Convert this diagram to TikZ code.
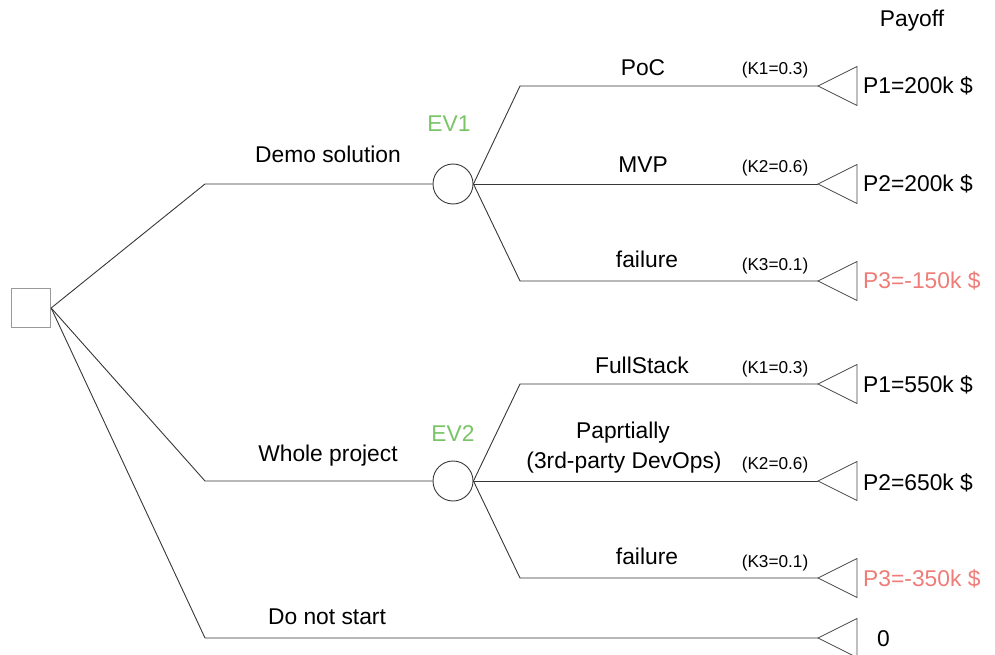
\documentclass[tikz,border=0pt]{standalone}
\usepackage{fontspec}
\setmainfont{Liberation Sans}
\definecolor{evgreen}{RGB}{122,196,104}
\definecolor{losered}{RGB}{238,124,120}
\definecolor{edgegray}{RGB}{55,55,55}
\begin{document}
\begin{tikzpicture}[x=1pt,y=-1pt,
  edge/.style={draw=edgegray,line width=0.9pt},
  decision/.style={draw=gray!80,line width=1.3pt,minimum size=39pt,inner sep=0pt},
  chance/.style={circle,draw=edgegray,line width=0.9pt,minimum size=40pt,inner sep=0pt},
  leaf/.style={draw=edgegray!90,line width=0.8pt},
  lbl/.style={font=\fontsize{22.8}{26}\selectfont,anchor=base,inner sep=0pt},
  prob/.style={font=\fontsize{17.2}{20}\selectfont,anchor=base,inner sep=0pt},
  pay/.style={font=\fontsize{22.8}{26}\selectfont,anchor=base west,inner sep=0pt},
  evlbl/.style={lbl,text=evgreen}]
\useasboundingbox (0,0) rectangle (995,655);

% decision and chance nodes
\node[decision] (root) at (31,308) {};
\node[chance] (ev1) at (453,184) {};
\node[chance] (ev2) at (453,481) {};

% bends and leaf tips
\coordinate (bDemo) at (205,184);
\coordinate (bWhole) at (205,481);
\coordinate (bNone) at (205,638);
\foreach \n/\y in {a1/86,a2/184,a3/281,b1/384,b2/481,b3/578,c/638}{
  \coordinate (t\n) at (818,\y);
}
\coordinate (ka1) at (520,86);
\coordinate (ka3) at (520,281);
\coordinate (kb1) at (520,384);
\coordinate (kb3) at (520,578);

% first level branches
\draw[edge] (root.east) -- (bDemo) -- (ev1.west);
\draw[edge] (root.east) -- (bWhole) -- (ev2.west);
\draw[edge] (root.east) -- (bNone) -- (tc);

% chance branches
\draw[edge] (ev1.east) -- (ka1) -- (ta1);
\draw[edge] (ev1.east) -- (ta2);
\draw[edge] (ev1.east) -- (ka3) -- (ta3);
\draw[edge] (ev2.east) -- (kb1) -- (tb1);
\draw[edge] (ev2.east) -- (tb2);
\draw[edge] (ev2.east) -- (kb3) -- (tb3);

% terminal triangles
\foreach \n in {a1,a2,a3,b1,b2,b3,c}{
  \draw[leaf] (t\n) -- ++(39,-19.5) -- ++(0,39) -- cycle;
}

% labels
\node[lbl] (hdr) at (912,27) {Payoff};
\node[lbl] (lDemo) at (328,163) {Demo solution};
\node[lbl] (lWhole) at (328,461) {Whole project};
\node[lbl] (lNone) at (327,624) {Do not start};
\node[evlbl] (lev1) at (449,132) {EV1};
\node[evlbl] (lev2) at (453,441) {EV2};

\node[lbl] (lPoC) at (643,76) {PoC};
\node[lbl] (lMVP) at (643,172) {MVP};
\node[lbl] (lFail1) at (647,267) {failure};
\node[lbl] (lFull) at (642,373) {FullStack};
\node[lbl] (lPart1) at (623,438) {Paprtially};
\node[lbl] (lPart2) at (624,468) {(3rd-party DevOps)};
\node[lbl] (lFail2) at (647,564) {failure};

\node[prob] (pa1) at (775,75) {(K1=0.3)};
\node[prob] (pa2) at (775,172) {(K2=0.6)};
\node[prob] (pa3) at (775,270) {(K3=0.1)};
\node[prob] (pb1) at (775,373) {(K1=0.3)};
\node[prob] (pb2) at (775,469) {(K2=0.6)};
\node[prob] (pb3) at (775,567) {(K3=0.1)};

\node[pay] (va1) at (863,94) {P1=200k \$};
\node[pay] (va2) at (863,192) {P2=200k \$};
\node[pay] (va3) at (863,288) {\textcolor{losered}{P3=-150k \$}};
\node[pay] (vb1) at (863,392) {P1=550k \$};
\node[pay] (vb2) at (863,490) {P2=650k \$};
\node[pay] (vb3) at (863,586) {\textcolor{losered}{P3=-350k \$}};
\node[pay] (vc) at (877,646) {0};
\end{tikzpicture}
\end{document}
